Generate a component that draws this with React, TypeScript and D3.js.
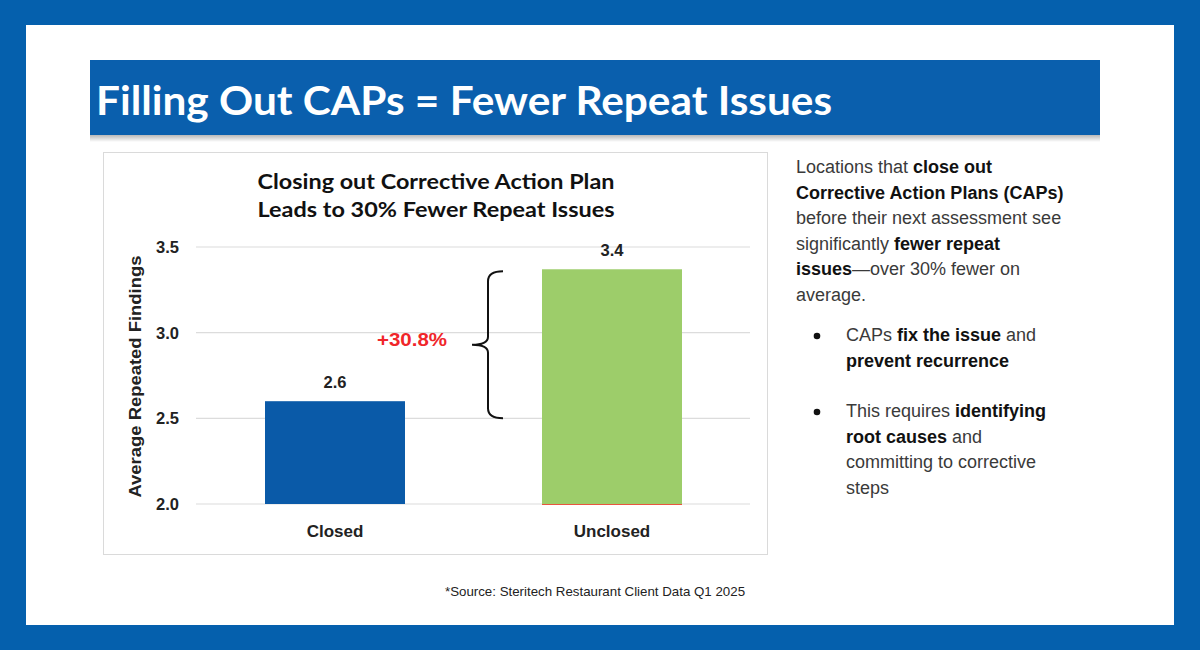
import React from 'react'
import * as d3 from 'd3'

// chart data
const categories = ['Closed', 'Unclosed']
const values = [2.6, 3.37]
const barColors = ['#0a5aa8', '#9dcd6a']
const yTicks = [2.0, 2.5, 3.0, 3.5]
const changeLabel = '+30.8%'

const headline = 'Filling Out CAPs = Fewer Repeat Issues'
const chartTitle = ['Closing out Corrective Action Plan', 'Leads to 30% Fewer Repeat Issues']
const yTitle = 'Average Repeated Findings'
const source = '*Source: Steritech Restaurant Client Data Q1 2025'

// side text: runs of [text, bold]
type Run = [string, boolean]
const introLines: Run[][] = [
  [['Locations that ', false], ['close out', true]],
  [['Corrective Action Plans (CAPs)', true]],
  [['before their next assessment see', false]],
  [['significantly ', false], ['fewer repeat', true]],
  [['issues', true], ['—over 30% fewer on', false]],
  [['average.', false]],
]
const bullets: Run[][][] = [
  [
    [['CAPs ', false], ['fix the issue', true], [' and', false]],
    [['prevent recurrence', true]],
  ],
  [
    [['This requires ', false], ['identifying', true]],
    [['root causes', true], [' and', false]],
    [['committing to corrective', false]],
    [['steps', false]],
  ],
]

const W = 1200
const H = 650
const SANS = 'Liberation Sans, Arial, sans-serif'

function Line({ runs, x, y }: { runs: Run[]; x: number; y: number }) {
  return (
    <text x={x} y={y} fontFamily={SANS} fontSize={18} fill="#2a2a2a">
      {runs.map((r, i) => (
        <tspan key={i} fontWeight={r[1] ? 700 : 400} fill={r[1] ? '#111' : '#3a3a3a'}>{r[0]}</tspan>
      ))}
    </text>
  )
}

export default function App() {
  const left = 196, right = 750
  const y = d3.scaleLinear().domain([2.0, 3.5]).range([504, 247])
  const x = d3.scalePoint<string>().domain(categories).range([335, 612])
  const bw = 140
  const cx = (c: string) => x(c) ?? 0

  // brace spans the gap between the two bars
  const bTop = y(values[1]) + 2
  const bBot = y(2.5)
  const bMid = (bTop + bBot) / 2
  const bx = 488
  const brace = d3.path()
  brace.moveTo(bx + 15, bTop)
  brace.quadraticCurveTo(bx, bTop, bx, bTop + 10)
  brace.lineTo(bx, bMid - 8)
  brace.quadraticCurveTo(bx, bMid, bx - 16, bMid)
  brace.quadraticCurveTo(bx, bMid, bx, bMid + 8)
  brace.lineTo(bx, bBot - 10)
  brace.quadraticCurveTo(bx, bBot, bx + 15, bBot)

  const rightX = 796
  return (
    <svg width={W} height={H} style={{ position: 'absolute', left: 0, top: 0 }}>
      <defs>
        <linearGradient id="shadow" x1="0" y1="0" x2="0" y2="1">
          <stop offset="0" stopColor="#000" stopOpacity={0.28} />
          <stop offset="1" stopColor="#000" stopOpacity={0} />
        </linearGradient>
      </defs>
      <rect width={W} height={H} fill="#0560ad" />
      <rect x={26} y={25} width={1148} height={600} fill="#fff" />

      {/* headline banner */}
      <rect x={90} y={135} width={1010} height={7} fill="url(#shadow)" />
      <rect x={90} y={60} width={1010} height={75} fill="#0a5fad" />
      <text x={96} y={115} fontFamily="Lato, sans-serif" fontWeight={700} fontSize={41} fill="#fff"
        textLength={736} lengthAdjust="spacingAndGlyphs">{headline}</text>

      {/* chart frame */}
      <rect x={103.5} y={152.5} width={664} height={402} fill="#fff" stroke="#dadada" />
      {chartTitle.map((t, i) => (
        <text key={i} x={436} y={189 + i * 28} textAnchor="middle" fontFamily="Lato, sans-serif"
          fontWeight={700} fontSize={21} fill="#111" textLength={357} lengthAdjust="spacingAndGlyphs">{t}</text>
      ))}

      {/* gridlines + y ticks */}
      {yTicks.map(t => (
        <g key={t}>
          <line x1={left} x2={right} y1={y(t)} y2={y(t)} stroke="#dcdcdc" strokeWidth={1.2} />
          <text x={179} y={y(t) + 6} textAnchor="end" fontFamily={SANS} fontWeight={700} fontSize={16.5} fill="#222">
            {t.toFixed(1)}
          </text>
        </g>
      ))}
      <text transform={`translate(141,${(y(2.0) + y(3.5)) / 2 + 1}) rotate(-90)`} textAnchor="middle"
        fontFamily={SANS} fontWeight={700} fontSize={16.5} fill="#222" textLength={242}
        lengthAdjust="spacingAndGlyphs">{yTitle}</text>

      {/* bars */}
      {categories.map((c, i) => (
        <g key={c}>
          <rect x={cx(c) - bw / 2} y={y(values[i])} width={bw} height={y(2.0) - y(values[i])} fill={barColors[i]} />
          <text x={cx(c)} y={y(values[i]) - 13} textAnchor="middle" fontFamily={SANS} fontWeight={700}
            fontSize={16.5} fill="#222">{values[i].toFixed(1)}</text>
          <text x={cx(c)} y={537} textAnchor="middle" fontFamily={SANS} fontWeight={700}
            fontSize={17} fill="#222">{c}</text>
        </g>
      ))}
      <line x1={cx(categories[1]) - bw / 2} x2={cx(categories[1]) + bw / 2} y1={y(2.0) + 0.5} y2={y(2.0) + 0.5}
        stroke="#e8553f" strokeWidth={1.2} />

      {/* brace annotation */}
      <path d={brace.toString()} fill="none" stroke="#111" strokeWidth={2} />
      <text x={412} y={346} textAnchor="middle" fontFamily={SANS} fontWeight={700} fontSize={18.5}
        fill="#f0262a" textLength={70} lengthAdjust="spacingAndGlyphs">{changeLabel}</text>

      {/* side text */}
      {introLines.map((l, i) => <Line key={i} runs={l} x={rightX} y={173 + i * 25.5} />)}
      {bullets.map((b, bi) => {
        const y0 = bi === 0 ? 341 : 417
        return (
          <g key={bi}>
            <circle cx={817} cy={y0 - 5} r={3.3} fill="#111" />
            {b.map((l, i) => <Line key={i} runs={l} x={846} y={y0 + i * 25.5} />)}
          </g>
        )
      })}

      <text x={595} y={596} textAnchor="middle" fontFamily={SANS} fontSize={13.3} fill="#222">{source}</text>
    </svg>
  )
}
